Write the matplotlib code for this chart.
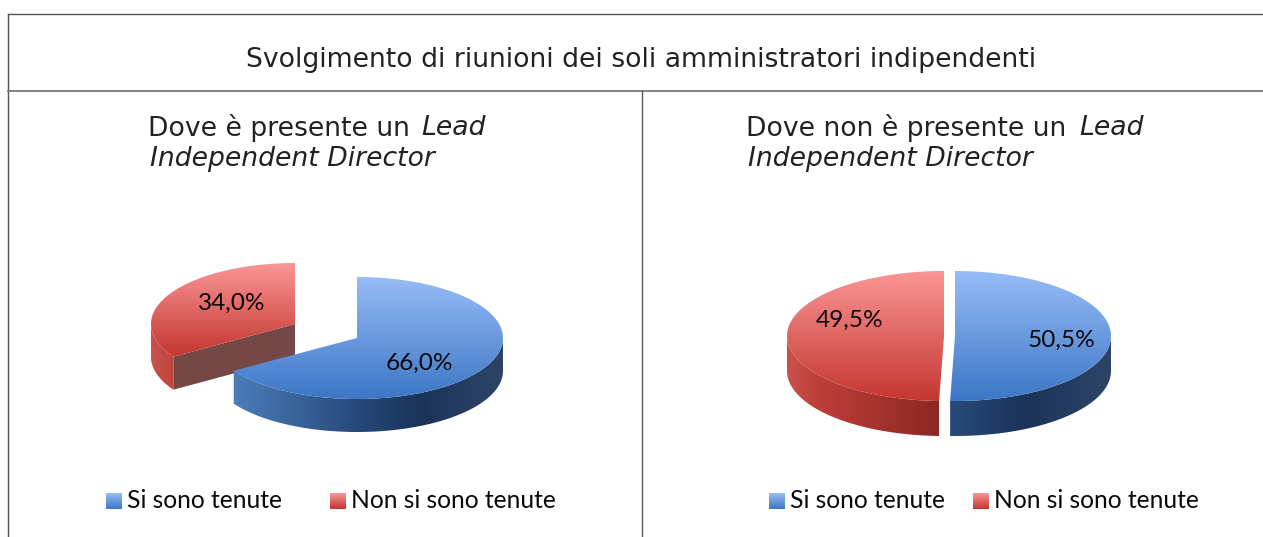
import numpy as np
import matplotlib
matplotlib.use("Agg")
import matplotlib.pyplot as plt
from matplotlib.colors import LinearSegmentedColormap
from matplotlib.patches import PathPatch
from matplotlib.path import Path

title = "Svolgimento di riunioni dei soli amministratori indipendenti"
categories = ["Si sono tenute", "Non si sono tenute"]
values_left = [66.0, 34.0]
values_right = [50.5, 49.5]
labels_left = ["66,0%", "34,0%"]
labels_right = ["50,5%", "49,5%"]

W, H = 1263, 537
fig = plt.figure(figsize=(W / 100, H / 100), dpi=100, facecolor="white")
ax = fig.add_axes([0, 0, 1, 1])
ax.set_xlim(0, W)
ax.set_ylim(H, 0)
ax.axis("off")

BLUE_TOP = ["#97BCF7", "#3C77C5"]
RED_TOP = ["#FA9696", "#C4362F"]
BLUE_SIDE = [(0, "#5A8EC9"), (0.09, "#4A7CB8"), (0.5, "#27497A"), (0.72, "#1A3358"), (1, "#2C4567")]
RED_SIDE = [(0, "#C9524D"), (0.2, "#BE3E39"), (1, "#8A2622")]
CUT = "#744845"


def arc(cx, cy, a, b, t1, t2, n=160):
    t = np.radians(np.linspace(t1, t2, n))
    return np.column_stack([cx + a * np.cos(t), cy - b * np.sin(t)])


def fill_gradient(verts, colors, horizontal, z, xspan=None):
    xs, ys = verts[:, 0], verts[:, 1]
    x0, x1 = xspan if xspan else (xs.min(), xs.max())
    cmap = LinearSegmentedColormap.from_list("g", colors)
    grad = np.linspace(0, 1, 256)
    grad = grad[None, :] if horizontal else grad[:, None]
    im = ax.imshow(grad, cmap=cmap, extent=(x0, x1, ys.max(), ys.min()),
                   aspect="auto", zorder=z, interpolation="bilinear")
    clip = PathPatch(Path(np.vstack([verts, verts[0]]), closed=True),
                     transform=ax.transData, fc="none", ec="none")
    ax.add_patch(clip)
    im.set_clip_path(clip)


def slice3d(cx, cy, a, b, d, t1, t2, top, side, z, wall_range, span, cut_end=False):
    rim = arc(cx, cy, a, b, t1, t2)
    lo, hi = max(t1, wall_range[0]), min(t2, wall_range[1])
    if hi > lo:
        front = arc(cx, cy, a, b, lo, hi)
        wall = np.vstack([front, front[::-1] + [0, d]])
        fill_gradient(wall, side, True, z, xspan=span)
    if cut_end:
        end = rim[-1]
        quad = np.array([[cx, cy], end, end + [0, d], [cx, cy + d]])
        ax.add_patch(plt.Polygon(quad, closed=True, fc=CUT, ec="none", zorder=z + 0.1))
    fill_gradient(np.vstack([[cx, cy], rim]), top, False, z + 0.2)


def pie3d(values, labels, blue_c, red_c, a, b, d, label_xy, red_cut):
    total = sum(values)
    split = 90 - 360 * values[0] / total
    slice3d(blue_c[0], blue_c[1], a[0], b, d, split, 90, BLUE_TOP, BLUE_SIDE, 3, (-180, 0),
            (blue_c[0] - a[0], blue_c[0] + a[0]))
    slice3d(red_c[0], red_c[1], a[1], b, d, 90, split + 360, RED_TOP, RED_SIDE, 2,
            (180, 360), (red_c[0] - a[1], red_c[0]), cut_end=red_cut)
    for (x, y), s in zip(label_xy, labels):
        ax.text(x, y, s, ha="center", va="center", fontsize=17.6,
                family="Lato", color="#0A0A0A", zorder=6)


pie3d(values_left, labels_left, (357, 338), (295, 324), (146, 144), 61, 33,
      [(419, 363), (232, 303)], True)
pie3d(values_right, labels_right, (955, 336), (944, 336), (156, 157), 65, 35,
      [(1061, 340), (850, 320)], False)

# Frame
line = dict(color="#555555", lw=1.0, zorder=1)
ax.plot([7.5, 7.5], [13.5, H], **line)
ax.plot([7.5, W], [13.5, 13.5], **line)
ax.plot([7.5, W], [90.5, 90.5], color="#777777", lw=1.3, zorder=1)
ax.plot([641.5, 641.5], [90.5, H], **line)

# Texts
sty = dict(family="DejaVu Sans", color="#222222", va="center", ha="left")
ax.text(246, 60, title, fontsize=19.2, **sty)
ax.text(148, 128, "Dove è presente un", fontsize=19.2, **sty)
ax.text(421, 128, "Lead", fontsize=19.2, style="italic", **sty)
ax.text(150, 159, "Independent Director", fontsize=19.2, style="italic", **sty)
ax.text(746, 128, "Dove non è presente un", fontsize=19.2, **sty)
ax.text(1079, 128, "Lead", fontsize=19.2, style="italic", **sty)
ax.text(748, 159, "Independent Director", fontsize=19.2, style="italic", **sty)

# Legends
for x_blue, x_red in ((106, 330), (769, 973)):
    for x, col, name in ((x_blue, BLUE_TOP, categories[0]), (x_red, RED_TOP, categories[1])):
        sq = np.array([[x, 493], [x + 16, 493], [x + 16, 509], [x, 509]], float)
        fill_gradient(sq, col, False, 4)
        ax.text(x + 21, 501, name, fontsize=17.7, family="Lato", color="#0A0A0A",
                va="center", ha="left", zorder=6)

ax.set_xlim(0, W)
ax.set_ylim(H, 0)
fig.savefig("out.png", dpi=100, facecolor="white")
